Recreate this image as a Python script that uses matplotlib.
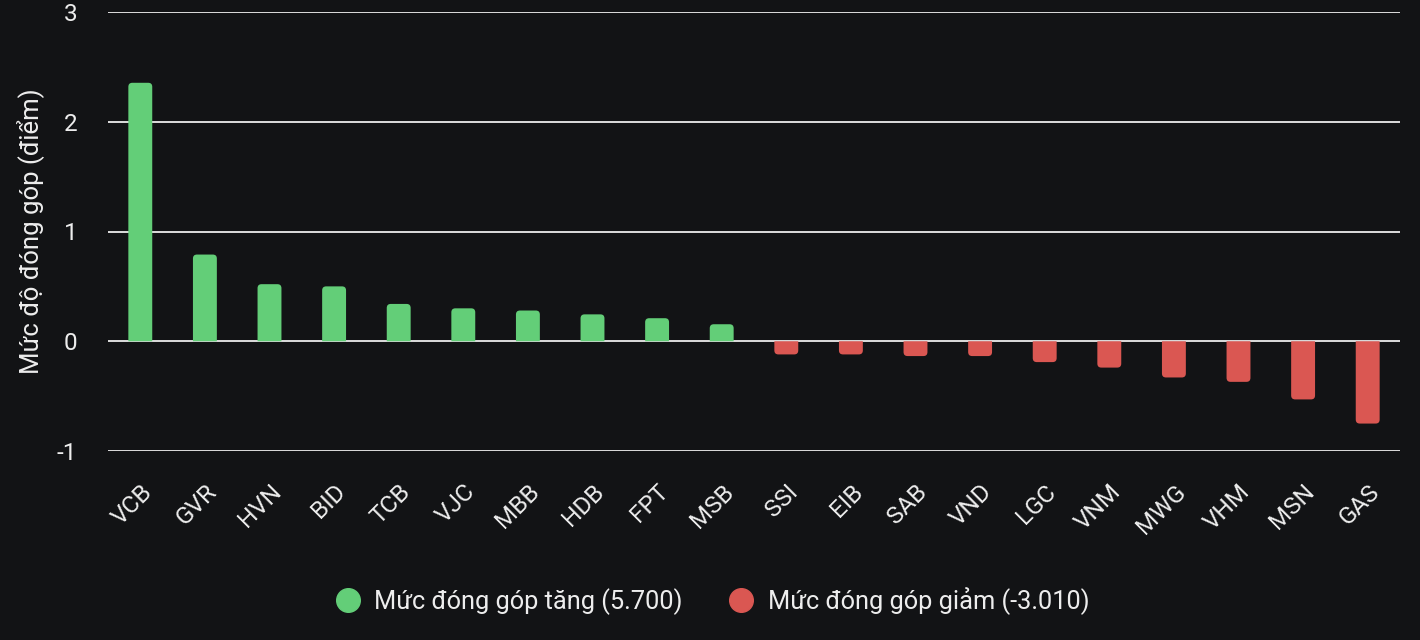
import numpy as np
import matplotlib.pyplot as plt
from matplotlib.patches import PathPatch
from matplotlib.path import Path
from matplotlib.lines import Line2D

plt.rcParams['font.family'] = ['Roboto', 'DejaVu Sans']
plt.rcParams['axes.unicode_minus'] = False

ma_cp = ["VCB", "GVR", "HVN", "BID", "TCB", "VJC", "MBB", "HDB", "FPT", "MSB",
         "SSI", "EIB", "SAB", "VND", "LGC", "VNM", "MWG", "VHM", "MSN", "GAS"]
dong_gop = [2.355, 0.79, 0.52, 0.50, 0.34, 0.30, 0.28, 0.245, 0.21, 0.155,
            -0.12, -0.12, -0.135, -0.135, -0.19, -0.24, -0.33, -0.37, -0.53, -0.75]
tong_tang = 5.700
tong_giam = -3.010

nen = "#121315"
xanh = "#63CE78"
do = "#DA5752"
chu = "#EDEDED"

fig = plt.figure(figsize=(14.2, 6.4), dpi=100, facecolor=nen)
ax = fig.add_axes([108/1420, 1-451/640, 1292/1420, 439/640])
ax.set_facecolor(nen)

x = np.arange(len(ma_cp))
w = 0.37
mau = [xanh if v >= 0 else do for v in dong_gop]

ax.set_xlim(-0.5, len(ma_cp) - 0.5)
ax.set_ylim(-1, 3)
ax.set_yticks([-1, 0, 1, 2, 3])
ax.grid(axis="y", color=chu, linewidth=1.3, zorder=0)
ax.set_axisbelow(True)


def cot_bo_goc(x0, x1, h, rx, ry):
    # cot chi bo tron o dau ngoai
    s = 1 if h >= 0 else -1
    ry = min(ry, abs(h)) * s
    verts = [(x0, 0), (x0, h - ry), (x0, h), (x0 + rx, h), (x1 - rx, h),
             (x1, h), (x1, h - ry), (x1, 0), (x0, 0)]
    codes = [Path.MOVETO, Path.LINETO, Path.CURVE3, Path.CURVE3, Path.LINETO,
             Path.CURVE3, Path.CURVE3, Path.LINETO, Path.CLOSEPOLY]
    return Path(verts, codes)


rx = 4 * len(ma_cp) / 1292
ry = 4 * 4 / 439
for xi, v, c in zip(x, dong_gop, mau):
    ax.add_patch(PathPatch(cot_bo_goc(xi - w/2, xi + w/2, v, rx, ry),
                           fc=c, ec="none", zorder=3))

for s in ax.spines.values():
    s.set_visible(False)
ax.tick_params(length=0, colors=chu, labelsize=17.5)
ax.set_xticks(x)
ax.set_xticklabels(ma_cp, rotation=45, ha="right", rotation_mode="anchor")
ax.tick_params(axis="x", pad=21)
ax.tick_params(axis="y", pad=22)
ax.set_ylabel("Mức độ đóng góp (điểm)", color=chu, fontsize=18.5, labelpad=9)

h1 = Line2D([], [], marker="o", ls="none", color=xanh, markersize=17)
h2 = Line2D([], [], marker="o", ls="none", color=do, markersize=17)
leg = fig.legend([h1, h2], [f"Mức đóng góp tăng ({tong_tang:.3f})", f"Mức đóng góp giảm ({tong_giam:.3f})"],
                 loc="center", bbox_to_anchor=(706/1420, 1-601/640), ncol=2, frameon=False,
                 fontsize=18.3, labelcolor=chu, handletextpad=0.05, columnspacing=1.3)

fig.savefig("out.png", dpi=100, facecolor=nen)
